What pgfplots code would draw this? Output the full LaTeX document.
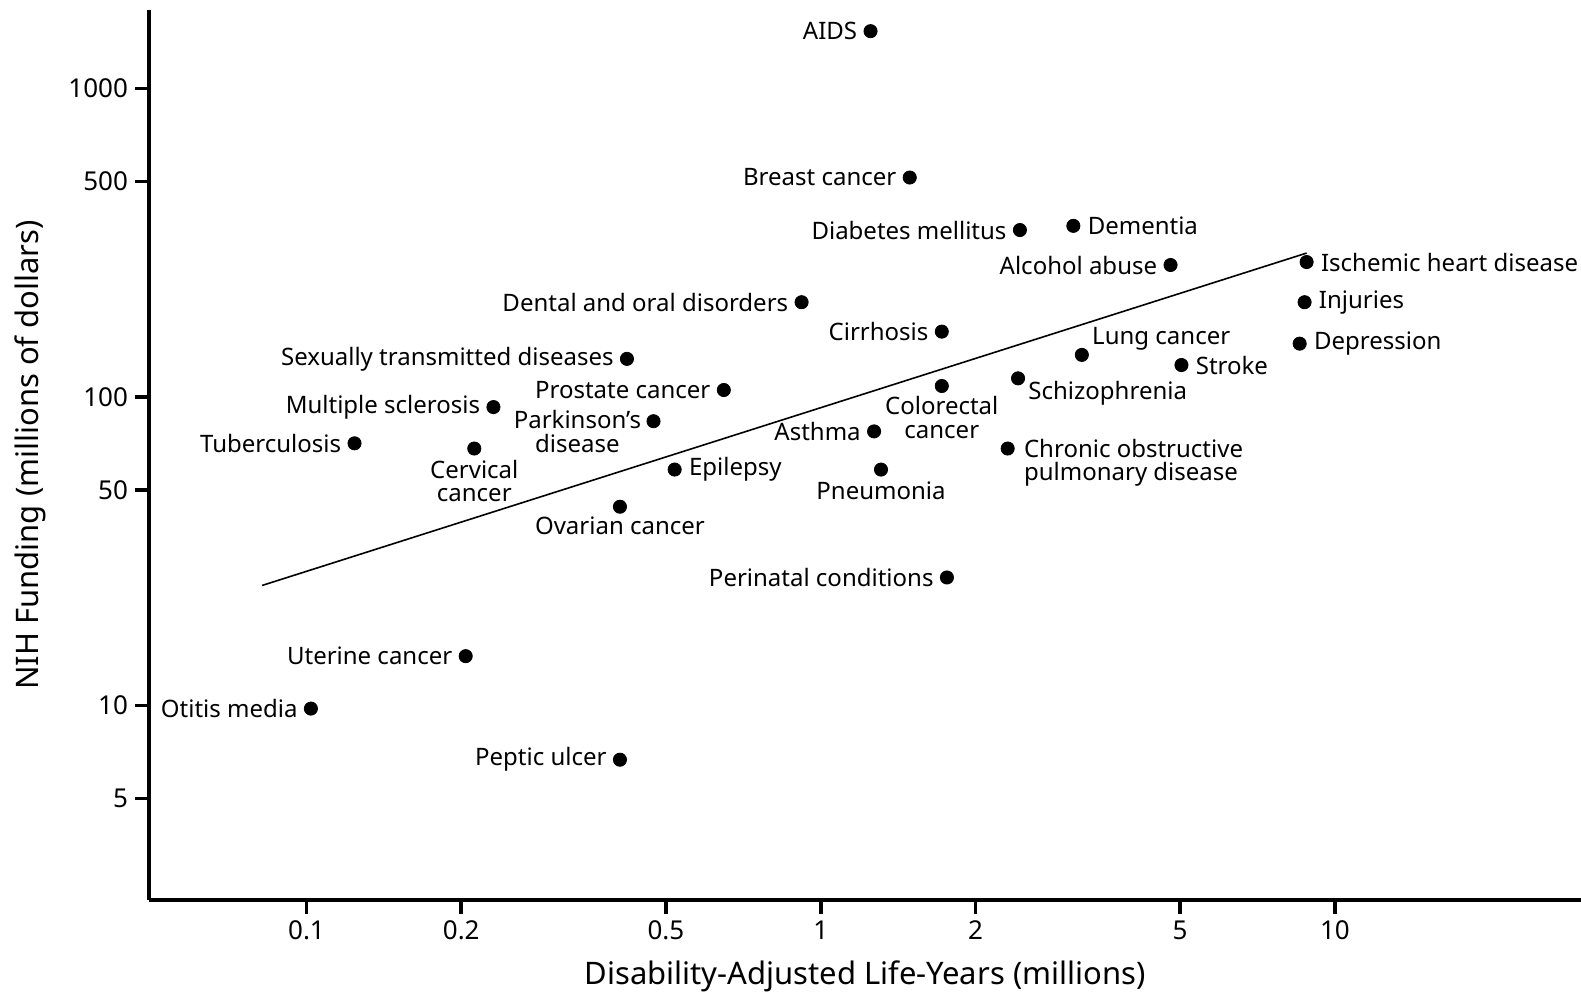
\documentclass[border=0pt]{standalone}
\usepackage{pgfplots}
\pgfplotsset{compat=1.18}
\usepackage{fontspec}
\setmainfont{Noto Sans}
\tikzset{lab/.style={font=\fontsize{12}{11.7}\selectfont, inner sep=0pt}}
\begin{document}
\begin{tikzpicture}
\pgfplotstableread{
x y
1.25 1536
1.49 515
2.44 348
3.10 359
4.79 268
8.81 274
8.73 203
8.54 149
3.22 137
5.03 127
2.42 115
2.31 68.1
1.72 108.6
1.72 163
0.918 203
1.27 77.4
1.31 58.2
1.76 26.0
0.52 58.2
0.407 44.1
0.648 105.4
0.473 83.5
0.42 133
0.231 92.8
0.124 70.8
0.212 68.1
0.204 14.45
0.102 9.77
0.407 6.67
}\datatable
\begin{axis}[
  scale only axis, width=716pt, height=445pt,
  xmode=log, ymode=log,
  xmin=0.0494, xmax=30.1, ymin=2.34, ymax=1799,
  axis x line*=bottom, axis y line*=left,
  axis line style={-, line width=2.4pt},
  xtick={0.1,0.2,0.5,1,2,5,10}, xticklabels={0.1,0.2,0.5,1,2,5,10},
  ytick={5,10,50,100,500,1000}, yticklabels={5,10,50,100,500,1000},
  xminorticks=false, yminorticks=false,
  tick align=outside, major tick length=7pt,
  tick style={line width=1.8pt, black},
  ticklabel style={font=\fontsize{13}{14}\selectfont},
  xlabel={Disability-Adjusted Life-Years (millions)},
  ylabel={NIH Funding (millions of dollars)},
  label style={font=\fontsize{15.5}{17}\selectfont},
  xlabel style={at={(axis description cs:0.5,-0.0854)}, anchor=center},
  ylabel style={at={(axis description cs:-0.0831,0.5)}, anchor=center},
  clip=false,
]
\addplot[black, line width=0.8pt] coordinates {(0.082,24.5) (8.81,293)};
\addplot[only marks, mark=*, mark size=3.3pt, black] table[x=x,y=y] {\datatable};
% left labels
\node[lab, anchor=east, xshift=-6.5pt] at (axis cs:1.25,1536) {AIDS};
\node[lab, anchor=east, xshift=-6.5pt] at (axis cs:1.49,515) {Breast cancer};
\node[lab, anchor=east, xshift=-6.5pt] at (axis cs:2.44,348) {Diabetes mellitus};
\node[lab, anchor=east, xshift=-6.5pt] at (axis cs:4.79,268) {Alcohol abuse};
\node[lab, anchor=east, xshift=-6.5pt] at (axis cs:0.918,203) {Dental and oral disorders};
\node[lab, anchor=east, xshift=-6.5pt] at (axis cs:1.72,163) {Cirrhosis};
\node[lab, anchor=east, xshift=-6.5pt] at (axis cs:0.42,133) {Sexually transmitted diseases};
\node[lab, anchor=east, xshift=-6.5pt] at (axis cs:0.648,105.4) {Prostate cancer};
\node[lab, anchor=east, xshift=-6.5pt] at (axis cs:0.231,92.8) {Multiple sclerosis};
\node[lab, anchor=east, xshift=-6.5pt] at (axis cs:0.124,70.8) {Tuberculosis};
\node[lab, anchor=east, xshift=-6.5pt] at (axis cs:1.27,77.4) {Asthma};
\node[lab, anchor=east, xshift=-6.5pt] at (axis cs:1.76,26.0) {Perinatal conditions};
\node[lab, anchor=east, xshift=-6.5pt] at (axis cs:0.204,14.45) {Uterine cancer};
\node[lab, anchor=east, xshift=-6.5pt] at (axis cs:0.102,9.77) {Otitis media};
\node[lab, anchor=east, xshift=-6.5pt] at (axis cs:0.407,6.67) {Peptic ulcer};
% right labels
\node[lab, anchor=west, xshift=7pt] at (axis cs:3.10,359) {Dementia};
\node[lab, anchor=west, xshift=7pt] at (axis cs:8.81,274) {Ischemic heart disease};
\node[lab, anchor=west, xshift=7pt] at (axis cs:8.73,203) {Injuries};
\node[lab, anchor=west, xshift=7pt] at (axis cs:8.54,149) {Depression};
\node[lab, anchor=west, xshift=7pt] at (axis cs:5.03,127) {Stroke};
\node[lab, anchor=west, xshift=7pt] at (axis cs:0.52,58.2) {Epilepsy};
\node[lab, anchor=west, xshift=5pt, yshift=8pt] at (axis cs:3.22,137) {Lung cancer};
\node[lab, anchor=west, xshift=5pt, yshift=-7.5pt] at (axis cs:2.42,115) {Schizophrenia};
% multi-line and below labels
\node[lab, anchor=north, align=center, yshift=-5pt] at (axis cs:1.72,108.6) {Colorectal\\cancer};
\node[lab, anchor=north, align=center, yshift=-5.5pt] at (axis cs:0.212,68.1) {Cervical\\cancer};
\node[lab, anchor=north east, align=center, xshift=-6pt, yshift=5.5pt] at (axis cs:0.473,83.5) {Parkinson’s\\disease};
\node[lab, anchor=north west, align=left, xshift=8pt, yshift=5pt] at (axis cs:2.31,68.1) {Chronic obstructive\\pulmonary disease};
\node[lab, anchor=north, yshift=-6pt] at (axis cs:1.31,58.2) {Pneumonia};
\node[lab, anchor=north, yshift=-5pt] at (axis cs:0.407,44.1) {Ovarian cancer};
\end{axis}
\pgfresetboundingbox
\path ([xshift=-74.5pt,yshift=-47pt]current axis.south west) rectangle ([yshift=5pt]current axis.north east);
\end{tikzpicture}
\end{document}
